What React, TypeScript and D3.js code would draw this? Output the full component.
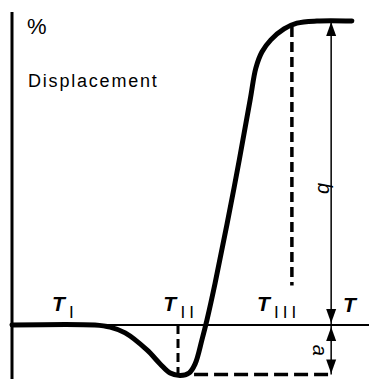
import * as d3 from "d3";

// displacement curve, x in arbitrary temperature units, y in % displacement
const curveX = [0, 23.2, 27.5, 31.7, 37.8, 41.5, 44.3, 47.1, 49.6, 51.3, 53.2, 54.6, 56.9, 62.2, 66.7, 68.3, 70.0, 72.5, 76.2, 79.8, 85.4, 95.2];
const curveY = [0, 0, -0.7, -2.6, -8.2, -12.8, -15.8, -16.6, -15.8, -12.8, -4.9, 1.6, 13.8, 45.1, 74.0, 84.5, 89.8, 93.8, 97.4, 99.3, 100, 100];

const tempLabels = ["I", "II", "III"];
const tempX = [11.2, 42.4, 68.6];
const tempSubX = [16, 47.2, 73.4];
const tIIX = 46.5;
const tIIIX = 78.4;
const measureX = 89.4;
const minY = -16.6;
const maxY = 100;

const width = 369;
const height = 379;

export default function App() {
  const x = d3.scaleLinear().domain([0, 100]).range([12, 369]);
  const y = d3.scaleLinear().domain([0, 100]).range([325, 21]);

  const pts: [number, number][] = curveX.map((v, i) => [v, curveY[i]]);
  const line = d3
    .line<[number, number]>()
    .x((d) => x(d[0]))
    .y((d) => y(d[1]))
    .curve(d3.curveCatmullRom.alpha(0.5));

  const ax = x(measureX);
  const arrow = (tipY: number, dir: number) => {
    // dir = -1 points up, 1 points down
    const h = 14;
    const w = 5;
    return `M${ax},${tipY} L${ax - w},${tipY - dir * h} L${ax + w},${tipY - dir * h} Z`;
  };

  const font = "'Liberation Sans', Arial, Helvetica, sans-serif";

  return (
    <svg
      width={width}
      height={height}
      style={{ position: "absolute", left: 0, top: 0, background: "#fff" }}
    >
      {/* vertical axis */}
      <line x1={12} x2={12} y1={12} y2={height} stroke="#000" strokeWidth={3} />
      {/* baseline */}
      <line x1={12} x2={width} y1={y(0)} y2={y(0)} stroke="#000" strokeWidth={2} />

      {/* dashed helpers */}
      <line
        x1={x(tIIX)} x2={x(tIIX)} y1={y(0)} y2={y(minY)}
        stroke="#000" strokeWidth={3} strokeDasharray="9 5"
      />
      <line
        x1={x(tIIIX)} x2={x(tIIIX)} y1={y(98)} y2={y(13)}
        stroke="#000" strokeWidth={3.5} strokeDasharray="10 5"
      />
      <line
        x1={x(51)} x2={ax} y1={y(minY) - 1} y2={y(minY) - 1}
        stroke="#000" strokeWidth={3.5} strokeDasharray="14 6"
      />

      {/* measuring line b / a */}
      <line x1={ax} x2={ax} y1={y(maxY)} y2={y(minY) - 1} stroke="#000" strokeWidth={1.5} />
      <path d={arrow(y(maxY) + 1, -1)} fill="#000" />
      <path d={arrow(y(0) - 2, 1)} fill="#000" />
      <path d={arrow(y(0) + 2, -1)} fill="#000" />
      <path d={arrow(y(minY) - 2, 1)} fill="#000" />

      {/* curve */}
      <path d={line(pts) ?? ""} fill="none" stroke="#000" strokeWidth={5} strokeLinecap="round" />

      {/* labels */}
      <text x={27} y={34} fontFamily={font} fontSize={22}>%</text>
      <text x={28} y={87} fontFamily={font} fontSize={18} letterSpacing={1.8}>Displacement</text>

      {tempLabels.map((s, i) => (
        <g key={s}>
          <text x={x(tempX[i])} y={311} fontFamily={font} fontSize={21} fontStyle="italic" fontWeight="bold">T</text>
          <text x={x(tempSubX[i])} y={318} fontFamily={font} fontSize={17} letterSpacing={4}>{s}</text>
        </g>
      ))}
      <text x={343} y={312} fontFamily={font} fontSize={21} fontStyle="italic" fontWeight="bold">T</text>

      <text
        transform={`translate(${ax - 13},${y(45)}) rotate(90)`}
        fontFamily={font} fontSize={20} fontStyle="italic" textAnchor="middle"
      >b</text>
      <text
        transform={`translate(${ax - 18},${(y(0) + y(minY)) / 2}) rotate(90)`}
        fontFamily={font} fontSize={20} fontStyle="italic" textAnchor="middle"
      >a</text>
    </svg>
  );
}
